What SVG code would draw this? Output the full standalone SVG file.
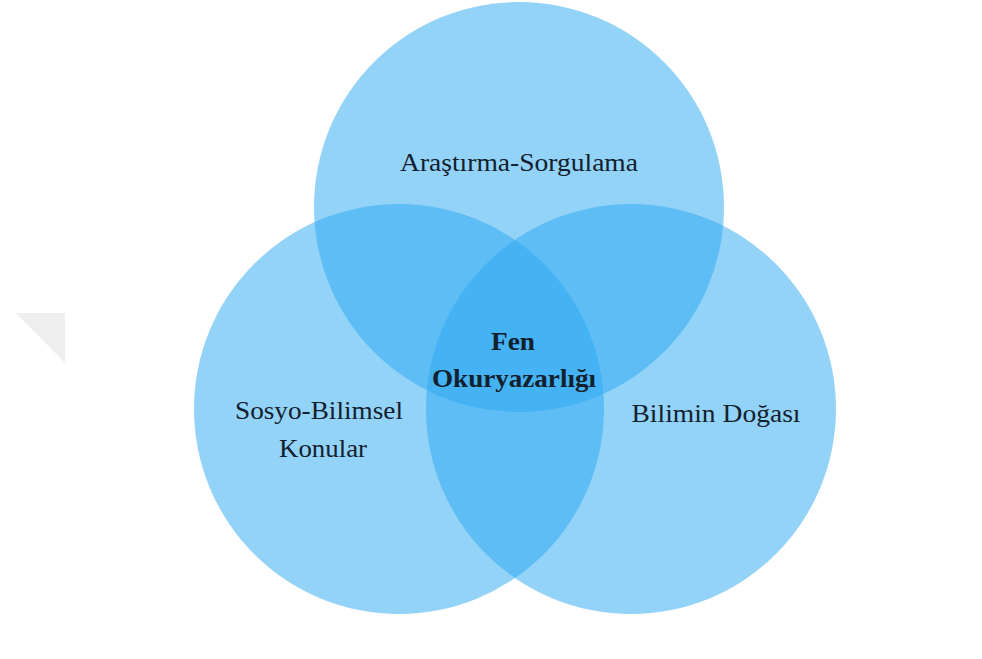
<svg xmlns="http://www.w3.org/2000/svg" width="982" height="659" viewBox="0 0 982 659">
<style>
.c{fill:#2aa8f2;fill-opacity:0.5}
.t{font-family:"Liberation Serif","Times New Roman",serif;font-size:26px;fill:#13202e;text-anchor:middle}
.b{font-weight:bold}
</style>
<rect width="982" height="659" fill="#ffffff"/>
<polygon points="16,313 65,313 65,363" fill="#eeeeee"/>
<g id="top"><circle class="c" cx="519" cy="207" r="205"/><text class="t" x="519" y="171" textLength="238" lengthAdjust="spacingAndGlyphs">Araştırma-Sorgulama</text></g>
<g id="left"><circle class="c" cx="399" cy="409" r="205"/><text class="t" x="319" y="419" textLength="168" lengthAdjust="spacingAndGlyphs">Sosyo-Bilimsel</text><text class="t" x="323" y="457" textLength="88" lengthAdjust="spacingAndGlyphs">Konular</text></g>
<g id="right"><circle class="c" cx="631" cy="409" r="205"/><text class="t" x="716" y="422" textLength="169" lengthAdjust="spacingAndGlyphs">Bilimin Doğası</text></g>
<g id="center"><text class="t b" x="513" y="350" textLength="44" lengthAdjust="spacingAndGlyphs">Fen</text><text class="t b" x="514" y="387" textLength="164" lengthAdjust="spacingAndGlyphs">Okuryazarlığı</text></g>
<g id="connectors"/>
</svg>
